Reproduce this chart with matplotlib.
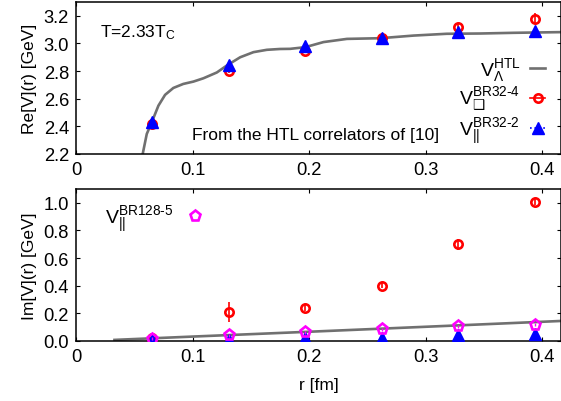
import matplotlib
matplotlib.use("Agg")
import matplotlib.pyplot as plt
from matplotlib.ticker import FixedLocator, FixedFormatter
from matplotlib.lines import Line2D

plt.rcParams['font.family'] = ['Liberation Sans', 'DejaVu Sans']
plt.rcParams['mathtext.fontset'] = 'custom'
plt.rcParams['mathtext.rm'] = 'Liberation Sans'
plt.rcParams['mathtext.it'] = 'Liberation Sans:italic'
plt.rcParams['mathtext.sf'] = 'DejaVu Sans'
FS = 12.5
TFS = 13.2
LFS = 14

# ---------------- data ----------------
r_pts = [0.0656, 0.1312, 0.1968, 0.2624, 0.3280, 0.3936]

# Re[V] lattice points
re_br32_4 = [2.42, 2.80, 2.945, 3.04, 3.12, 3.18]
re_br32_4_err = [0.01, 0.015, 0.015, 0.01, 0.02, 0.04]
re_br32_2 = [2.435, 2.845, 2.98, 3.04, 3.08, 3.09]
re_br32_2_err = [0.01, 0.01, 0.01, 0.01, 0.01, 0.01]

# HTL real part curve
r_htl = [0.0572, 0.0607, 0.065, 0.0707, 0.0764, 0.0835, 0.092, 0.1007, 0.1093,
         0.1208, 0.1293, 0.1408, 0.1522, 0.1637, 0.1750, 0.1837, 0.1966, 0.2123,
         0.2324, 0.2610, 0.2895, 0.3180, 0.3468, 0.3754, 0.4160]
re_htl = [2.20, 2.345, 2.43, 2.55, 2.628, 2.678, 2.707, 2.724, 2.748,
          2.79, 2.84, 2.90, 2.937, 2.954, 2.96, 2.961, 2.973, 3.01,
          3.033, 3.038, 3.057, 3.07, 3.072, 3.077, 3.082]

# Im[V] lattice points
im_br32_4 = [0.02, 0.21, 0.24, 0.40, 0.70, 1.005]
im_br32_4_err = [0.01, 0.07, 0.02, 0.02, 0.04, 0.02]
im_br32_2 = [0.01, 0.01, 0.02, 0.025, 0.045, 0.05]
im_br32_2_err = [0.005, 0.005, 0.005, 0.005, 0.005, 0.005]
im_br128_5 = [0.017, 0.04, 0.063, 0.085, 0.105, 0.117]
im_br128_5_err = [0.01, 0.01, 0.01, 0.01, 0.01, 0.01]

# HTL imaginary part curve
r_htl_im = [0.033, 0.10, 0.20, 0.30, 0.416]
im_htl = [0.008, 0.032, 0.067, 0.103, 0.145]

xticks = [0, 0.1, 0.2, 0.3, 0.4]
xticklabels = ['0', '0.1', '0.2', '0.3', '0.4']
re_yticks = [2.2, 2.4, 2.6, 2.8, 3.0, 3.2]
im_yticks = [0.0, 0.2, 0.4, 0.6, 0.8, 1.0]

lab_htl = r'$\mathrm{V}_{\Lambda}^{\mathrm{HTL}}$'
lab_br32_4 = r'$\mathrm{V}_{\mathsf{❑}}^{\text{BR32-4}}$'
lab_br32_2 = r'$\mathrm{V}_{||}^{\text{BR32-2}}$'
lab_br128_5 = r'$\mathrm{V}_{||}^{\text{BR128-5}}$'

# ---------------- figure ----------------
W, H = 561, 402
fig = plt.figure(figsize=(W / 100, H / 100), dpi=100)
L, R = 76 / W, 1.0
ax1 = fig.add_axes([L, 1 - 155 / H, R - L, 152 / H])
ax2 = fig.add_axes([L, 1 - 342 / H, R - L, 152 / H])

gray = '#707070'
red = '#ff0000'
blue = '#0000ff'
mag = '#ff00ff'

for ax in (ax1, ax2):
    ax.set_xlim(0, 0.416)
    ax.xaxis.set_major_locator(FixedLocator(xticks))
    ax.xaxis.set_major_formatter(FixedFormatter(xticklabels))
    ax.tick_params(direction='in', top=True, right=True, length=3, width=0.8,
                   labelsize=TFS, pad=5)
    for s in ax.spines.values():
        s.set_linewidth(1.1)

# top panel
ax1.set_ylim(2.2, 3.3)
ax1.set_yticks(re_yticks)
ax1.set_yticklabels([f'{v:.1f}' for v in re_yticks])
ax1.plot(r_htl, re_htl, color=gray, lw=1.9, zorder=2)
ax1.errorbar(r_pts, re_br32_4, yerr=re_br32_4_err, fmt='o', ms=6,
             mfc='none', mec=red, mew=1.9, ecolor=red, elinewidth=1.2,
             color=red, zorder=3)
ax1.errorbar(r_pts, re_br32_2, yerr=re_br32_2_err, fmt='^', ms=8,
             mfc=blue, mec=blue, ecolor=blue, elinewidth=1.0,
             color=blue, zorder=4)
ax1.set_ylabel('Re[V](r) [GeV]', fontsize=FS, labelpad=5)
ax1.text(0.05, 0.772, r'T=2.33T$_\mathrm{C}$', transform=ax1.transAxes,
         fontsize=FS, ha='left', va='baseline')
ax1.text(0.24, 0.099, 'From the HTL correlators of [10]', transform=ax1.transAxes,
         fontsize=FS, ha='left', va='baseline')

hk_htl = Line2D([], [], color=gray, lw=1.9)
hk_red = Line2D([], [], color=red, lw=1.2, marker='o', ms=6, mfc='none',
                mec=red, mew=1.9)
hk_blue = Line2D([], [], color=blue, lw=1.2, ls=':', marker='^', ms=8,
                 mfc=blue, mec=blue)
ax1.legend([hk_htl, hk_red, hk_blue], [lab_htl, lab_br32_4, lab_br32_2],
           loc='center right', bbox_to_anchor=(0.968, 0.35), frameon=False,
           markerfirst=False, fontsize=LFS, handlelength=0.8,
           handletextpad=0.5, labelspacing=0.12, borderaxespad=0, borderpad=0)

# bottom panel
ax2.set_ylim(0, 1.1)
ax2.set_yticks(im_yticks)
ax2.set_yticklabels([f'{v:.1f}' for v in im_yticks])
ax2.plot(r_htl_im, im_htl, color=gray, lw=1.9, zorder=2)
ax2.errorbar(r_pts, im_br32_4, yerr=im_br32_4_err, fmt='o', ms=6,
             mfc='none', mec=red, mew=1.9, ecolor=red, elinewidth=1.2,
             color=red, zorder=3)
ax2.errorbar(r_pts, im_br32_2, yerr=im_br32_2_err, fmt='^', ms=8,
             mfc=blue, mec=blue, ecolor=blue, elinewidth=1.0,
             color=blue, zorder=4)
ax2.errorbar(r_pts, im_br128_5, yerr=im_br128_5_err, fmt='p', ms=8,
             mfc='none', mec=mag, mew=1.9, ecolor=mag, elinewidth=1.0,
             color=mag, zorder=5)
ax2.set_ylabel('Im[V](r) [GeV]', fontsize=FS, labelpad=5)
ax2.set_xlabel('r [fm]', fontsize=FS, labelpad=9)
hk_mag = Line2D([], [], ls='none', marker='p', ms=8, mfc='none', mec=mag, mew=1.9)
ax2.legend([hk_mag], [lab_br128_5], loc='upper left',
           bbox_to_anchor=(0.06, 0.905), frameon=False, markerfirst=False,
           fontsize=LFS, handlelength=0.8, handletextpad=0.7,
           borderaxespad=0, borderpad=0)

fig.savefig('out.png', dpi=100)
